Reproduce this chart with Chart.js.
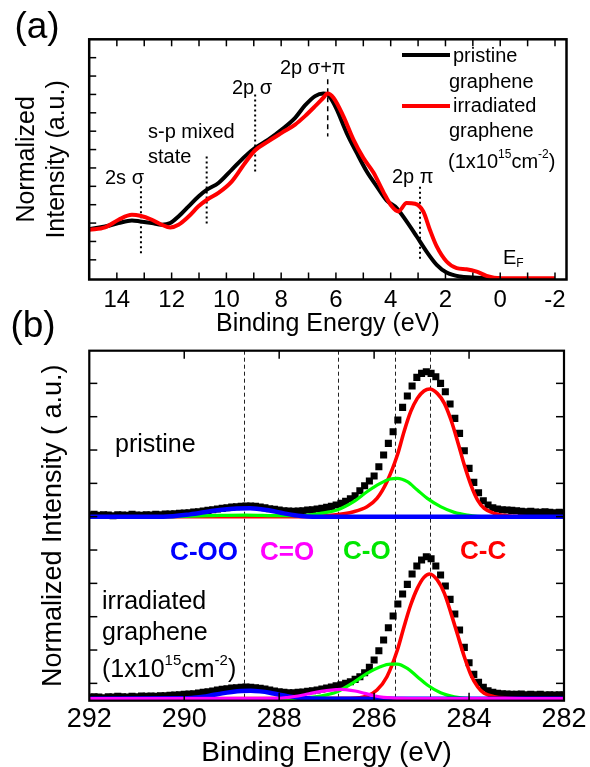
<!DOCTYPE html>
<html lang="en">
<head>
<meta charset="UTF-8">
<title>Graphene valence band and C 1s spectra</title>
<style>
  body { margin: 0; background: #fff; }
  #wrap { position: relative; width: 590px; height: 767px; }
  canvas { position: absolute; left: 0; }
</style>
</head>
<body>
<div id="wrap">
  <canvas id="chartA" width="590" height="345" style="top:0px"></canvas>
  <canvas id="chartB" width="590" height="467" style="top:300px"></canvas>
</div>

<script src="https://cdn.jsdelivr.net/npm/chart.js@4.4.0/dist/chart.umd.min.js"></script>
<script>
// ---------- panel (a): valence band ----------
var energyA_pri = [15.0, 14.43, 13.94, 13.45, 13.15, 12.72, 12.36, 12.05, 11.75, 11.38, 11.02, 10.71, 10.29, 9.80, 9.32, 8.95, 8.47, 7.98, 7.49, 7.13, 6.76, 6.46, 6.31, 6.15, 5.97, 5.61, 5.24, 4.88, 4.51, 4.15, 3.78, 3.42, 3.05, 2.69, 2.32, 1.96, 1.47, 0.99, 0.50, 0.0];
var pristineA   = [0.267, 0.281, 0.300, 0.314, 0.309, 0.300, 0.291, 0.300, 0.336, 0.391, 0.445, 0.482, 0.518, 0.591, 0.663, 0.709, 0.754, 0.809, 0.873, 0.940, 0.991, 1.005, 1.000, 0.970, 0.918, 0.791, 0.682, 0.582, 0.500, 0.424, 0.382, 0.309, 0.227, 0.145, 0.073, 0.031, 0.009, 0.004, 0.0, 0.0];

var energyA_irr = [15.0, 14.43, 13.94, 13.45, 13.15, 12.72, 12.36, 12.05, 11.75, 11.38, 11.02, 10.71, 10.29, 9.80, 9.32, 8.95, 8.47, 7.98, 7.49, 7.13, 6.76, 6.46, 6.31, 6.09, 5.73, 5.36, 5.0, 4.63, 4.27, 3.96, 3.72, 3.42, 3.11, 2.81, 2.57, 2.32, 1.96, 1.59, 1.23, 0.86, 0.50, 0.0, -1.0, -2.0];
var irradiatedA = [0.264, 0.277, 0.318, 0.345, 0.340, 0.318, 0.291, 0.276, 0.291, 0.336, 0.391, 0.427, 0.464, 0.527, 0.627, 0.696, 0.745, 0.791, 0.836, 0.882, 0.936, 0.982, 1.005, 0.982, 0.882, 0.754, 0.655, 0.575, 0.470, 0.391, 0.363, 0.409, 0.405, 0.363, 0.264, 0.173, 0.091, 0.055, 0.049, 0.036, 0.013, 0.0, 0.0, 0.0];

var xTicksA = [14, 12, 10, 8, 6, 4, 2, 0, -2];

// ---------- panel (b): C 1s ----------
var energyB = [292.0,291.9,291.8,291.7,291.6,291.5,291.4,291.3,291.2,291.1,
  291.0,290.9,290.8,290.7,290.6,290.5,290.4,290.3,290.2,290.1,
  290.0,289.9,289.8,289.7,289.6,289.5,289.4,289.3,289.2,289.1,
  289.0,288.9,288.8,288.7,288.6,288.5,288.4,288.3,288.2,288.1,
  288.0,287.9,287.8,287.7,287.6,287.5,287.4,287.3,287.2,287.1,
  287.0,286.9,286.8,286.7,286.6,286.5,286.4,286.3,286.2,286.1,
  286.0,285.9,285.8,285.7,285.6,285.5,285.4,285.3,285.2,285.1,
  285.0,284.9,284.8,284.7,284.6,284.5,284.4,284.3,284.2,284.1,
  284.0,283.9,283.8,283.7,283.6,283.5,283.4,283.3,283.2,283.1,
  283.0,282.9,282.8,282.7,282.6,282.5,282.4,282.3,282.2,282.1,
  282.0];
var pristineB = [6.05,6.07,6.04,6.06,6.05,6.03,6.06,6.05,6.04,6.07,
  6.05,6.04,6.06,6.05,6.07,6.06,6.08,6.08,6.09,6.10,
  6.11,6.12,6.14,6.15,6.17,6.19,6.21,6.23,6.25,6.27,
  6.29,6.30,6.31,6.32,6.32,6.31,6.29,6.27,6.24,6.22,
  6.20,6.18,6.17,6.16,6.17,6.18,6.20,6.21,6.23,6.25,
  6.28,6.31,6.35,6.40,6.46,6.54,6.63,6.78,6.93,7.07,
  7.22,7.50,7.85,8.20,8.55,8.90,9.28,9.62,9.92,10.18,
  10.30,10.35,10.30,10.20,10.00,9.75,9.38,8.95,8.50,7.98,
  7.45,7.03,6.72,6.48,6.35,6.27,6.23,6.21,6.20,6.19,
  6.18,6.16,6.15,6.16,6.14,6.13,6.15,6.13,6.12,6.13,
  6.12];
var irradiatedB = [0.58,0.60,0.59,0.57,0.60,0.59,0.61,0.60,0.59,0.61,
  0.60,0.62,0.61,0.62,0.61,0.63,0.63,0.64,0.65,0.66,
  0.67,0.68,0.69,0.71,0.73,0.75,0.77,0.80,0.82,0.84,
  0.86,0.87,0.88,0.89,0.88,0.87,0.85,0.83,0.80,0.77,
  0.75,0.73,0.72,0.72,0.73,0.74,0.76,0.78,0.80,0.83,
  0.86,0.89,0.93,0.96,1.00,1.05,1.12,1.20,1.32,1.48,
  1.70,1.98,2.30,2.67,3.02,3.38,3.68,3.97,4.28,4.52,
  4.70,4.80,4.74,4.52,4.25,3.92,3.52,3.08,2.60,2.08,
  1.62,1.27,1.03,0.88,0.78,0.73,0.70,0.69,0.68,0.67,
  0.67,0.68,0.66,0.67,0.66,0.67,0.65,0.66,0.65,0.66,
  0.65];

// fitted components, pristine (offset trace)
var ccTopE  = [292, 287.5, 286.85, 286.43, 286.15, 285.94, 285.73, 285.51, 285.37, 285.23, 285.09, 284.95, 284.83, 284.67, 284.52, 284.38, 284.24, 284.10, 283.96, 283.82, 283.68, 283.47, 283.19, 282.6, 282];
var ccTop   = [6.0, 6.0, 6.05, 6.15, 6.30, 6.55, 7.05, 7.85, 8.55, 9.15, 9.55, 9.77, 9.83, 9.70, 9.40, 8.90, 8.25, 7.55, 6.95, 6.50, 6.25, 6.10, 6.03, 6.0, 6.0];
var coTopE  = [292, 290.5, 289.5, 288.7, 288.0, 287.55, 287.13, 286.78, 286.43, 286.15, 285.87, 285.66, 285.51, 285.30, 285.09, 284.88, 284.60, 284.31, 284.03, 283.68, 282];
var coTop   = [6.0, 6.0, 6.03, 6.05, 6.03, 6.03, 6.10, 6.20, 6.45, 6.75, 7.00, 7.13, 7.15, 7.05, 6.80, 6.55, 6.30, 6.13, 6.05, 6.0, 6.0];
var cooTopE = [292, 290.44, 289.88, 289.38, 288.96, 288.61, 288.26, 287.9, 287.55, 287.3, 282];
var cooTop  = [6.0, 6.0, 6.07, 6.18, 6.24, 6.25, 6.20, 6.10, 6.02, 6.0, 6.0];

// fitted components, irradiated
var ccBotE  = [292, 286.5, 286.15, 285.94, 285.73, 285.51, 285.37, 285.23, 285.09, 284.95, 284.83, 284.67, 284.52, 284.38, 284.24, 284.10, 283.96, 283.82, 283.68, 283.47, 283.19, 282.8, 282];
var ccBot   = [0.54, 0.55, 0.62, 0.80, 1.20, 2.00, 2.70, 3.35, 3.85, 4.18, 4.28, 4.10, 3.70, 3.10, 2.45, 1.80, 1.25, 0.90, 0.70, 0.60, 0.56, 0.54, 0.54];
var coBotE  = [292, 288.0, 287.55, 287.13, 286.78, 286.43, 286.15, 285.87, 285.66, 285.51, 285.30, 285.09, 284.88, 284.60, 284.31, 284.03, 283.6, 282];
var coBot   = [0.54, 0.54, 0.56, 0.62, 0.75, 1.03, 1.30, 1.50, 1.58, 1.58, 1.45, 1.20, 0.95, 0.72, 0.60, 0.55, 0.54, 0.54];
var cooBotE = [292, 290.0, 289.8, 289.6, 289.4, 289.2, 289.0, 288.8, 288.6, 288.4, 288.2, 288.0, 287.8, 287.6, 287.4, 287.0, 282];
var cooBot  = [0.54, 0.55, 0.57, 0.60, 0.65, 0.70, 0.74, 0.77, 0.78, 0.76, 0.72, 0.66, 0.61, 0.57, 0.55, 0.54, 0.54];
var c2oBotE = [292, 288.0, 287.8, 287.6, 287.4, 287.2, 287.0, 286.8, 286.7, 286.6, 286.4, 286.2, 286.0, 285.8, 285.6, 285.4, 285.0, 282];
var c2oBot  = [0.54, 0.55, 0.58, 0.62, 0.68, 0.74, 0.78, 0.81, 0.82, 0.81, 0.77, 0.70, 0.63, 0.58, 0.56, 0.55, 0.54, 0.54];

var xTicksB = [292, 290, 288, 286, 284, 282];
var peakLinesB = [288.74, 286.76, 285.57, 284.83];

var FONT = '"Liberation Sans", Arial, Helvetica, sans-serif';
Chart.defaults.color = '#000';
Chart.defaults.font.family = FONT;

function pairs(xs, ys) {
  return xs.map(function (v, i) { return { x: v, y: ys[i] }; });
}

function line(ctx, x1, y1, x2, y2) {
  ctx.beginPath(); ctx.moveTo(x1, y1); ctx.lineTo(x2, y2); ctx.stroke();
}

// text with superscript / subscript parts: [text, shift] (shift: 0 normal, 1 sup, -1 sub)
function richText(ctx, parts, x, y, size, weight) {
  var cx = x;
  parts.forEach(function (p) {
    var s = p[1] ? size * 0.6 : size;
    ctx.font = (weight || '') + ' ' + s + 'px ' + FONT;
    var dy = p[1] === 1 ? -size * 0.38 : (p[1] === -1 ? size * 0.3 : 0);
    ctx.fillText(p[0], cx, y + dy);
    cx += ctx.measureText(p[0]).width;
  });
}

function lineSet(data, color, width, order) {
  return { data: data, showLine: true, borderColor: color, backgroundColor: color, borderWidth: width,
           pointRadius: 0, cubicInterpolationMode: 'monotone', order: order };
}

// ---------- panel (a) drawing ----------
var panelA = {
  id: 'panelA',
  beforeDatasetsDraw: function (chart) {
    var ctx = chart.ctx, x = chart.scales.x, y = chart.scales.y;
    var marks = [
      { e: 13.12, y0: 0.50, y1: 0.127 },
      { e: 10.72, y0: 0.662, y1: 0.291 },
      { e: 8.95, y0: 1.0, y1: 0.58 },
      { e: 6.30, y0: 1.082, y1: 0.771, dash: true },
      { e: 2.93, y0: 0.498, y1: 0.10 }
    ];
    ctx.save();
    ctx.strokeStyle = '#000';
    marks.forEach(function (m) {
      ctx.lineWidth = m.dash ? 1.5 : 2;
      ctx.setLineDash(m.dash ? [5, 4] : [2, 3]);
      var px = x.getPixelForValue(m.e);
      line(ctx, px, y.getPixelForValue(m.y0), px, y.getPixelForValue(m.y1));
    });
    ctx.restore();
  },
  afterDraw: function (chart) {
    var ctx = chart.ctx, a = chart.chartArea, x = chart.scales.x, y = chart.scales.y;
    ctx.save();
    ctx.strokeStyle = '#000';
    ctx.lineWidth = 1.5;
    for (var e = -2; e <= 15; e++) {
      var px = x.getPixelForValue(e);
      if (px < a.left + 1 || px > a.right - 1) continue;
      line(ctx, px, a.bottom, px, a.bottom - 7);
      line(ctx, px, a.top, px, a.top + 7);
    }
    for (var k = 1; k <= 12; k++) {
      var py = y.getPixelForValue(k / 10);
      line(ctx, a.left, py, a.left + 7, py);
    }
    ctx.lineWidth = 2.5;
    ctx.strokeRect(a.left, a.top, a.right - a.left, a.bottom - a.top);

    ctx.fillStyle = '#000';
    ctx.textBaseline = 'middle';
    ctx.textAlign = 'left';
    ctx.font = '20px ' + FONT;
    ctx.fillText('2s \u03c3', 105, 178);
    ctx.fillText('s-p mixed', 148, 132);
    ctx.fillText('state', 148, 157);
    ctx.fillText('2p \u03c3', 232, 88);
    ctx.fillText('2p \u03c3+\u03c0', 280, 68);
    ctx.fillText('2p \u03c0', 392, 177);
    richText(ctx, [['E', 0], ['F', -1]], 503, 258, 20);

    // legend
    ctx.lineWidth = 4;
    ctx.strokeStyle = '#000';
    line(ctx, 402, 55, 450, 55);
    ctx.strokeStyle = '#ff0000';
    line(ctx, 402, 106, 450, 106);
    ctx.font = '20px ' + FONT;
    ctx.fillText('pristine', 453, 56);
    ctx.fillText('graphene', 449, 82);
    ctx.fillText('irradiated', 453, 106);
    ctx.fillText('graphene', 449, 131);
    richText(ctx, [['(1x10', 0], ['15', 1], ['cm', 0], ['-2', 1], [')', 0]], 448, 162, 20);

    ctx.font = '37px ' + FONT;
    ctx.textAlign = 'center';
    ctx.fillText('(a)', 37, 28);
    ctx.restore();
  }
};

new Chart(document.getElementById('chartA'), {
  type: 'scatter',
  data: {
    datasets: [
      lineSet(pairs(energyA_irr, irradiatedA), '#ff0000', 4, 0),
      lineSet(pairs(energyA_pri, pristineA), '#000000', 4, 1)
    ]
  },
  options: {
    responsive: false,
    animation: false,
    events: [],
    layout: { padding: { top: 39.3, right: 23.5, bottom: 0, left: 0 } },
    plugins: { legend: { display: false }, tooltip: { enabled: false } },
    scales: {
      x: {
        type: 'linear', reverse: true, min: -2.42, max: 15.01,
        grid: { display: false, drawTicks: false }, border: { display: false },
        afterBuildTicks: function (s) { s.ticks = xTicksA.map(function (v) { return { value: v }; }); },
        afterFit: function (s) { s.height = 65.5; },
        ticks: { font: { size: 24 }, padding: 6, autoSkip: false, maxRotation: 0 },
        title: { display: true, text: 'Binding Energy (eV)', font: { size: 25 }, padding: { top: 0, bottom: 6 } }
      },
      y: {
        type: 'linear', min: -0.007, max: 1.3,
        grid: { display: false, drawTicks: false }, border: { display: false },
        ticks: { display: false },
        afterFit: function (s) { s.width = 89.2; },
        title: { display: true, text: ['Normalized', 'Intensity (a.u.)'], font: { size: 25, lineHeight: 1.2 }, padding: { top: 12.4, bottom: 0 } }
      }
    }
  },
  plugins: [panelA]
});

// ---------- panel (b) drawing ----------
var panelB = {
  id: 'panelB',
  beforeDatasetsDraw: function (chart) {
    var ctx = chart.ctx, a = chart.chartArea, x = chart.scales.x;
    ctx.save();
    ctx.strokeStyle = '#222';
    ctx.lineWidth = 1;
    ctx.setLineDash([4, 3]);
    peakLinesB.forEach(function (e) {
      var px = Math.round(x.getPixelForValue(e)) + 0.5;
      line(ctx, px, a.top, px, a.bottom);
    });
    ctx.restore();
  },
  afterDraw: function (chart) {
    var ctx = chart.ctx, a = chart.chartArea, x = chart.scales.x, y = chart.scales.y;
    ctx.save();
    ctx.strokeStyle = '#000';
    ctx.lineWidth = 1.5;
    [290, 288, 286, 284].forEach(function (e) {
      var px = x.getPixelForValue(e);
      line(ctx, px, a.bottom, px, a.bottom - 8);
      line(ctx, px, a.top, px, a.top + 8);
    });
    for (var k = 1; k <= 10; k++) {
      var py = y.getPixelForValue(k);
      line(ctx, a.left, py, a.left + 8, py);
      line(ctx, a.right, py, a.right - 8, py);
    }
    ctx.lineWidth = 2.2;
    ctx.strokeRect(a.left, a.top, a.right - a.left, a.bottom - a.top);

    ctx.fillStyle = '#000';
    ctx.textBaseline = 'middle';
    ctx.textAlign = 'left';
    ctx.font = '25px ' + FONT;
    ctx.fillText('pristine', 115, 145);
    ctx.fillText('irradiated', 102, 302);
    ctx.fillText('graphene', 102, 333);
    richText(ctx, [['(1x10', 0], ['15', 1], ['cm', 0], ['-2', 1], [')', 0]], 102, 370, 25);

    ctx.font = 'bold 26px ' + FONT;
    ctx.textAlign = 'right';
    ctx.fillStyle = '#0000ff';
    ctx.fillText('C-OO', 238, 253);
    ctx.textAlign = 'left';
    ctx.fillStyle = '#ff00ff';
    ctx.fillText('C=O', 260, 253);
    ctx.fillStyle = '#00e600';
    ctx.fillText('C-O', 343, 252);
    ctx.fillStyle = '#ff0000';
    ctx.fillText('C-C', 460, 252);

    ctx.fillStyle = '#000';
    ctx.font = '37px ' + FONT;
    ctx.textAlign = 'center';
    ctx.fillText('(b)', 33, 27);
    ctx.restore();
  }
};

new Chart(document.getElementById('chartB'), {
  type: 'scatter',
  data: {
    datasets: [
      { data: pairs(energyB, pristineB), showLine: false, pointStyle: 'rect', pointRadius: 5,
        backgroundColor: '#000', borderWidth: 0, order: 5 },
      { data: pairs(energyB, irradiatedB), showLine: false, pointStyle: 'rect', pointRadius: 5,
        backgroundColor: '#000', borderWidth: 0, order: 5 },
      lineSet(pairs(ccTopE, ccTop), '#ff0000', 3.6, 4),
      lineSet(pairs(ccBotE, ccBot), '#ff0000', 3.6, 4),
      lineSet(pairs(coTopE, coTop), '#00ff00', 3.2, 3),
      lineSet(pairs(coBotE, coBot), '#00ff00', 3.2, 3),
      lineSet(pairs(cooTopE, cooTop), '#0000ff', 4.5, 2),
      lineSet(pairs(cooBotE, cooBot), '#0000ff', 4.5, 2),
      lineSet(pairs(c2oBotE, c2oBot), '#ff00ff', 3.2, 1)
    ]
  },
  options: {
    responsive: false,
    animation: false,
    events: [],
    layout: { padding: { top: 50.7, right: 26, bottom: 0, left: 0 } },
    plugins: { legend: { display: false }, tooltip: { enabled: false } },
    scales: {
      x: {
        type: 'linear', reverse: true, min: 282, max: 292,
        grid: { display: false, drawTicks: false }, border: { display: false },
        afterBuildTicks: function (s) { s.ticks = xTicksB.map(function (v) { return { value: v }; }); },
        afterFit: function (s) { s.height = 66.3; },
        ticks: { font: { size: 27 }, padding: 3, autoSkip: false, maxRotation: 0 },
        title: { display: true, text: 'Binding Energy (eV)', font: { size: 28, lineHeight: 1 }, padding: { top: 0, bottom: 0 } }
      },
      y: {
        type: 'linear', min: 0.48, max: 10.98,
        grid: { display: false, drawTicks: false }, border: { display: false },
        ticks: { display: false },
        afterFit: function (s) { s.width = 89.3; },
        title: { display: true, text: 'Normalized Intensity ( a.u.)', font: { size: 27, lineHeight: 1.2 }, padding: { top: 37.8, bottom: 0 } }
      }
    }
  },
  plugins: [panelB]
});
</script>
</body>
</html>
